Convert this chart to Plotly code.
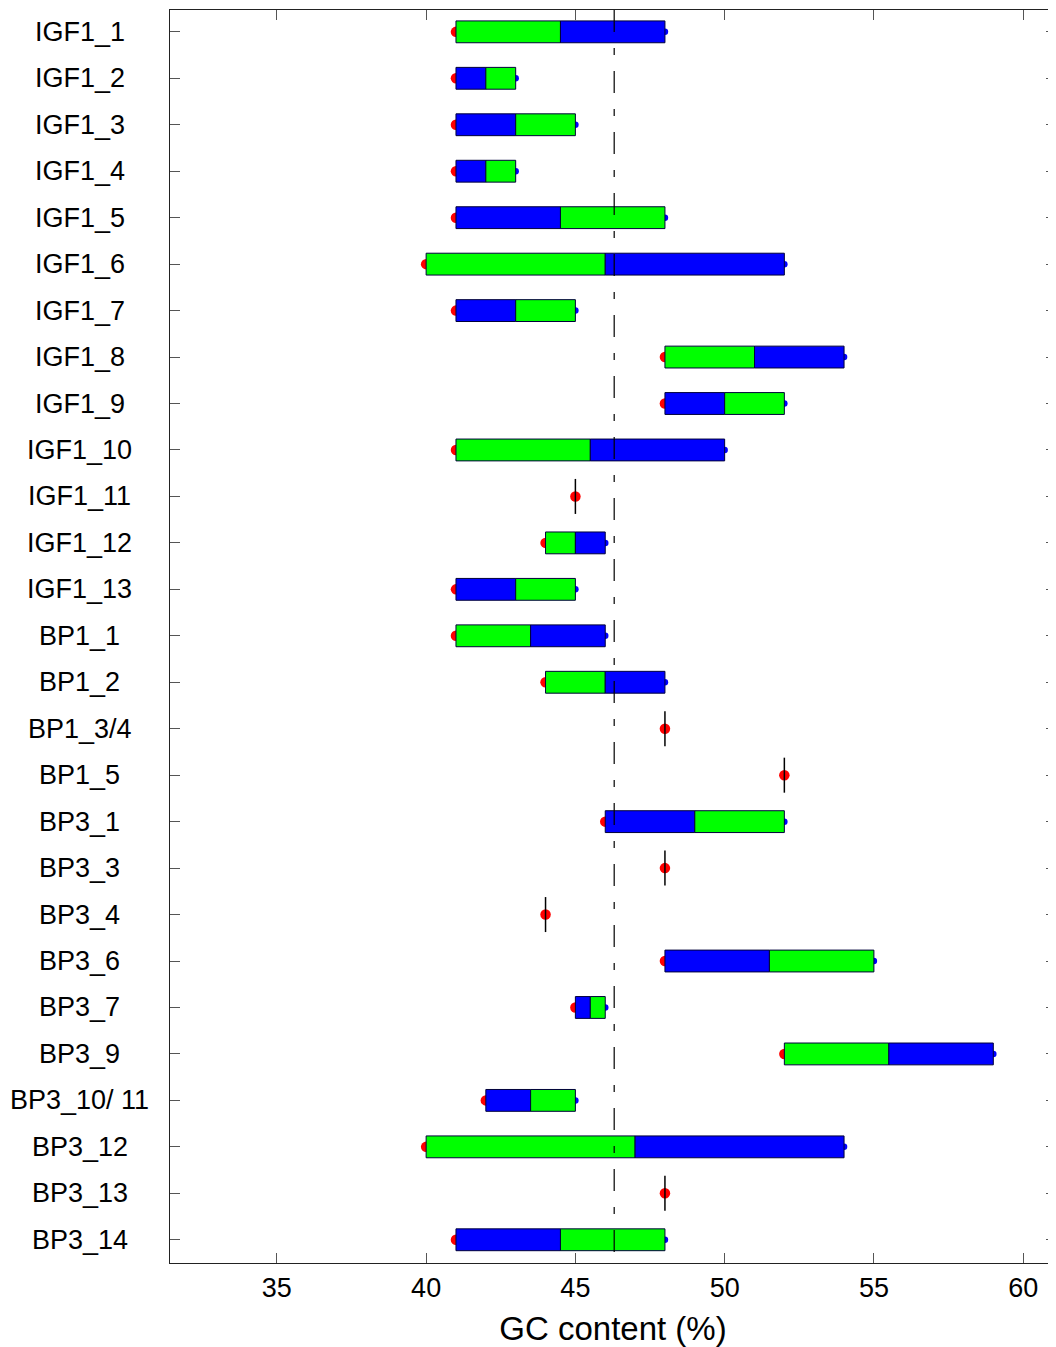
import plotly.graph_objects as go

# ---- data ----
exons = ["IGF1_1", "IGF1_2", "IGF1_3", "IGF1_4", "IGF1_5", "IGF1_6", "IGF1_7",
         "IGF1_8", "IGF1_9", "IGF1_10", "IGF1_11", "IGF1_12", "IGF1_13",
         "BP1_1", "BP1_2", "BP1_3/4", "BP1_5", "BP3_1", "BP3_3", "BP3_4",
         "BP3_6", "BP3_7", "BP3_9", "BP3_10/ 11", "BP3_12", "BP3_13", "BP3_14"]
gc_min = [41, 41, 41, 41, 41, 40, 41, 48, 48, 41, 45, 44, 41,
          41, 44, 48, 52, 46, 48, 44, 48, 45, 52, 42, 40, 48, 41]
gc_mid = [44.5, 42, 43, 42, 44.5, 46, 43, 51, 50, 45.5, 45, 45, 43,
          43.5, 46, 48, 52, 49, 48, 44, 51.5, 45.5, 55.5, 43.5, 47, 48, 44.5]
gc_max = [48, 43, 45, 43, 48, 52, 45, 54, 52, 50, 45, 46, 45,
          46, 48, 48, 52, 52, 48, 44, 55, 46, 59, 45, 54, 48, 48]
# which group forms the lower (left) segment: "G" or "B"
lower_group = ["G", "B", "B", "B", "B", "G", "B", "G", "B", "G", "G", "G", "B",
               "G", "G", "G", "G", "B", "G", "G", "B", "B", "G", "B", "G", "G", "B"]
reference_gc = 46.3
x_ticks = [35, 40, 45, 50, 55, 60]

# ---- styling ----
GROUP_COLORS = {"G": "#00ff00", "B": "#0000ff"}
OTHER = {"G": "B", "B": "G"}
FONT = "Liberation Sans, Arial, sans-serif"

idx = list(range(len(exons)))
rng = [i for i in idx if gc_max[i] > gc_min[i]]
single = [i for i in idx if gc_max[i] == gc_min[i]]

fig = go.Figure()

# dots (drawn underneath the bars)
fig.add_trace(go.Scatter(
    x=[gc_min[i] for i in idx], y=idx, mode="markers",
    marker=dict(color="#ff0000", size=10.5, line=dict(width=0)),
    hoverinfo="x+y", showlegend=False, xaxis="x", yaxis="y"))
fig.add_trace(go.Scatter(
    x=[gc_max[i] for i in rng], y=rng, mode="markers",
    marker=dict(color="#0000ff", size=6.5, line=dict(width=0)),
    showlegend=False, xaxis="x", yaxis="y"))

# bars on overlaid axes so they sit above the dots
bar_line = dict(color="#00003a", width=1)
fig.add_trace(go.Bar(
    orientation="h", y=rng,
    base=[gc_min[i] for i in rng],
    x=[gc_mid[i] - gc_min[i] for i in rng],
    width=0.47,
    marker=dict(color=[GROUP_COLORS[lower_group[i]] for i in rng], line=bar_line),
    showlegend=False, xaxis="x2", yaxis="y2"))
fig.add_trace(go.Bar(
    orientation="h", y=rng,
    base=[gc_mid[i] for i in rng],
    x=[gc_max[i] - gc_mid[i] for i in rng],
    width=0.47,
    marker=dict(color=[GROUP_COLORS[OTHER[lower_group[i]]] for i in rng], line=bar_line),
    showlegend=False, xaxis="x2", yaxis="y2"))

# single-value exons: vertical tick
fig.add_trace(go.Scatter(
    x=[gc_min[i] for i in single], y=single, mode="markers",
    marker=dict(symbol="line-ns", size=25, color="black",
                line=dict(color="black", width=1.5)),
    showlegend=False, xaxis="x2", yaxis="y2"))

x_range = [31.42, 61.1]
y_range = [26.5, -0.47]

axis_common = dict(showline=True, linecolor="#222", linewidth=1.3, mirror="ticks",
                   ticks="inside", ticklen=10, tickcolor="#555", tickwidth=1,
                   showgrid=False, zeroline=False)

# the page body adds an 8px offset, so the figure is sized to end at the window edge
fig.update_layout(
    width=1048, height=1339,
    margin=dict(l=162, r=0, t=2, b=84, autoexpand=False),
    paper_bgcolor="white", plot_bgcolor="white",
    barmode="overlay",
    font=dict(family=FONT, size=27, color="black"),
    xaxis=dict(range=x_range, tickvals=x_ticks, ticktext=[str(v) for v in x_ticks],
               tickfont=dict(size=27), automargin=False,
               title=dict(text="GC content (%)", font=dict(size=33), standoff=16),
               **axis_common),
    yaxis=dict(range=y_range, tickvals=idx, showticklabels=False, automargin=False,
               **axis_common),
    xaxis2=dict(range=x_range, overlaying="x", visible=False),
    yaxis2=dict(range=y_range, overlaying="y", visible=False),
    shapes=[dict(type="line", xref="x", yref="paper", x0=reference_gc, x1=reference_gc,
                 y0=1, y1=0, layer="above",
                 line=dict(color="black", width=1.2, dash="22px,16px,7px,16px"))],
)

for i in idx:
    fig.add_annotation(x=-0.1016, xref="paper", y=i, yref="y", text=exons[i],
                       showarrow=False, xanchor="center", yanchor="middle",
                       font=dict(family=FONT, size=27, color="black"))

fig.write_html("out.html")
